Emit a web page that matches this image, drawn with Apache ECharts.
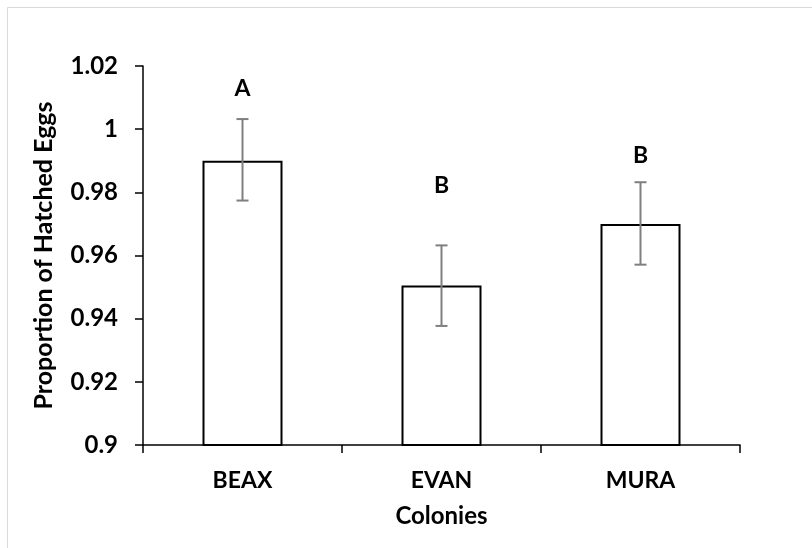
<!DOCTYPE html>
<html>
<head>
<meta charset="utf-8">
<script src="https://cdn.jsdelivr.net/npm/echarts@6/dist/echarts.min.js"></script>
<style>html,body{margin:0;padding:0;background:#fff;}#c{width:812px;height:548px;}</style>
</head>
<body>
<div id="c"></div>
<script>
var categories = ['BEAX', 'EVAN', 'MURA'];
var values = [0.990, 0.9505, 0.970];
var errLow = [0.9774, 0.9377, 0.9571];
var errHigh = [1.0032, 0.9632, 0.9832];
var letters = ['A', 'B', 'B'];
var letterY = [1.0127, 0.9820, 0.9915];
var yTicks = { min: 0.9, max: 1.02, interval: 0.02 };

var font = 'Lato, "Open Sans", sans-serif';
var chart = echarts.init(document.getElementById('c'));
chart.setOption({
  animation: false,
  backgroundColor: '#fff',
  graphic: [{
    type: 'rect', left: 5, top: 5, shape: { width: 830, height: 580 },
    style: { fill: 'none', stroke: '#d9d9d9', lineWidth: 1 }, silent: true, z: -1
  }],
  grid: { left: 143, right: 72, top: 66, bottom: 103, containLabel: false },
  xAxis: {
    type: 'category',
    data: categories,
    name: 'Colonies',
    nameLocation: 'middle',
    nameGap: 59,
    nameTextStyle: { fontFamily: font, fontWeight: 'bold', fontSize: 24, color: '#000' },
    axisLine: { lineStyle: { color: '#000', width: 1.5 } },
    axisTick: { show: true, length: 8, inside: false, lineStyle: { color: '#000', width: 1.5 } },
    axisLabel: { margin: 24, fontFamily: font, fontWeight: 'bold', fontSize: 23, color: '#000' },
    splitLine: { show: false }
  },
  yAxis: {
    type: 'value',
    min: yTicks.min, max: yTicks.max, interval: yTicks.interval,
    name: 'Proportion of Hatched Eggs',
    nameLocation: 'middle',
    nameGap: 87,
    nameRotate: 90,
    nameTextStyle: { fontFamily: font, fontWeight: 'bold', fontSize: 25, color: '#000' },
    axisLine: { show: true, lineStyle: { color: '#000', width: 1.5 } },
    axisTick: { show: true, length: 8, lineStyle: { color: '#000', width: 1.5 } },
    axisLabel: {
      margin: 25, fontFamily: font, fontWeight: 'bold', fontSize: 24, color: '#000',
      formatter: function (v) { return String(parseFloat(v.toFixed(2))); }
    },
    splitLine: { show: false }
  },
  series: [{
    type: 'bar',
    data: values,
    barWidth: 80,
    itemStyle: { color: '#fff', borderColor: '#000', borderWidth: 2 },
    z: 2
  }, {
    type: 'custom',
    data: categories.map(function (c, i) { return [i, errLow[i], errHigh[i], letterY[i]]; }),
    renderItem: function (params, api) {
      var i = api.value(0);
      var lo = api.coord([i, api.value(1)]);
      var hi = api.coord([i, api.value(2)]);
      var lt = api.coord([i, api.value(3)]);
      var w = 6;
      var st = { stroke: '#7f7f7f', lineWidth: 2 };
      return {
        type: 'group',
        children: [
          { type: 'line', shape: { x1: hi[0], y1: hi[1], x2: lo[0], y2: lo[1] }, style: st },
          { type: 'line', shape: { x1: hi[0] - w, y1: hi[1], x2: hi[0] + w, y2: hi[1] }, style: st },
          { type: 'line', shape: { x1: lo[0] - w, y1: lo[1], x2: lo[0] + w, y2: lo[1] }, style: st },
          { type: 'text', x: lt[0], y: lt[1], style: {
              text: letters[params.dataIndex], fill: '#000',
              font: 'bold 23px ' + font, textAlign: 'center', textVerticalAlign: 'middle'
          } }
        ]
      };
    },
    z: 3
  }]
});
</script>
</body>
</html>
